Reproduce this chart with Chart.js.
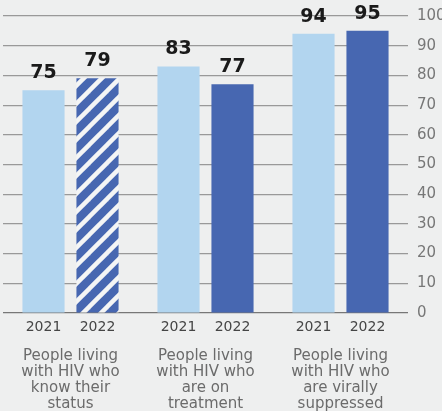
<!DOCTYPE html>
<html><head><meta charset="utf-8">
<script src="https://cdn.jsdelivr.net/npm/chart.js@4/dist/chart.umd.min.js"></script>
<style>html,body{margin:0;padding:0;background:#eeefef;}#wrap{width:442px;height:411px;}</style>
</head><body><div id="wrap"><canvas id="c" width="442" height="411"></canvas></div>
<script>
const groupLabels = [
  ["People living","with HIV who","know their","status"],
  ["People living","with HIV who","are on","treatment"],
  ["People living","with HIV who","are virally","suppressed"]
];
const years = ["2021","2022"];
const values2021 = [75, 83, 94];
const values2022 = [79, 77, 95];
const yTicks = [0,10,20,30,40,50,60,70,80,90,100];

const LIGHT = '#b2d5ef', DARK = '#4767b1';
function hatch(){
  const s = 18, c = document.createElement('canvas'); c.width = s; c.height = s;
  const x = c.getContext('2d');
  x.fillStyle = DARK; x.fillRect(0,0,s,s);
  x.strokeStyle = '#f4f5f5'; x.lineWidth = 4.5;
  [[-s,s,s,-s],[0,s,s,0],[0,2*s,2*s,0]].forEach(l=>{x.beginPath();x.moveTo(l[0],l[1]);x.lineTo(l[2],l[3]);x.stroke();});
  return x.createPattern(c,'repeat');
}

const labelPlugin = {
  id:'labels',
  afterDatasetsDraw(chart){
    const ctx = chart.ctx;
    ctx.save();
    ctx.textAlign = 'center';
    chart.data.datasets.forEach((ds,i)=>{
      const meta = chart.getDatasetMeta(i);
      meta.data.forEach((bar,j)=>{
        ctx.fillStyle = '#1a1a1a';
        ctx.font = 'bold 19px "DejaVu Sans"';
        ctx.textBaseline = 'alphabetic';
        ctx.fillText(String(ds.data[j]), bar.x, bar.y - 12);
        ctx.fillStyle = '#454545';
        ctx.font = '14px "DejaVu Sans"';
        ctx.textBaseline = 'middle';
        ctx.fillText(years[i], bar.x, chart.chartArea.bottom + 14);
      });
    });
    ctx.restore();
  }
};

new Chart(document.getElementById('c'), {
  type:'bar',
  data:{
    labels: groupLabels,
    datasets:[
      {label:years[0], data:values2021, backgroundColor:LIGHT},
      {label:years[1], data:values2022, backgroundColor:[hatch(), DARK, DARK]}
    ]
  },
  options:{
    responsive:false, animation:false,
    layout:{padding:{top:16,left:3,right:0,bottom:0}},
    categoryPercentage:0.8, barPercentage:0.78,
    plugins:{legend:{display:false}, tooltip:{enabled:false}},
    scales:{
      x:{
        grid:{display:false}, border:{display:false},
        ticks:{color:'#6b6b6b', font:{family:'DejaVu Sans', size:15, lineHeight:1.07}, padding:27, maxRotation:0, autoSkip:false},
        afterFit(s){ s.height = 98; s.paddingLeft = 0; s.paddingRight = 0; }
      },
      y:{
        position:'right', min:0, max:100,
        afterBuildTicks(s){ s.ticks = yTicks.map(v=>({value:v})); },
        grid:{color:(c)=> c.tick && c.tick.value===0 ? '#777' : '#999', lineWidth:1.2, drawTicks:false},
        border:{display:false},
        ticks:{color:'#777', font:{family:'DejaVu Sans', size:15}, padding:9},
        afterFit(s){ s.width = 34; s.paddingTop = 0; s.paddingBottom = 0; }
      }
    }
  },
  plugins:[labelPlugin]
});
</script></body></html>
